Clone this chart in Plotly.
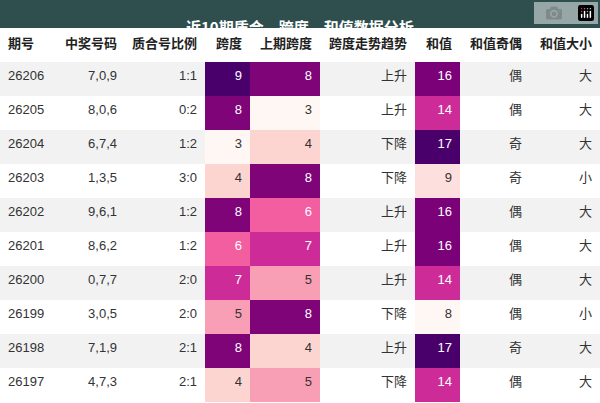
import plotly.graph_objects as go

title = "近10期质合，跨度，和值数据分析"
headers = ["期号", "中奖号码", "质合号比例", "跨度", "上期跨度", "跨度走势趋势", "和值", "和值奇偶", "和值大小"]
issues = ["26206", "26205", "26204", "26203", "26202", "26201", "26200", "26199", "26198", "26197"]
numbers = ["7,0,9", "8,0,6", "6,7,4", "1,3,5", "9,6,1", "8,6,2", "0,7,7", "3,0,5", "7,1,9", "4,7,3"]
ratios = ["1:1", "0:2", "1:2", "3:0", "1:2", "1:2", "2:0", "2:0", "2:1", "2:1"]
spans = [9, 8, 3, 4, 8, 6, 7, 5, 8, 4]
prev_spans = [8, 3, 4, 8, 6, 7, 5, 8, 4, 5]
trends = ["上升", "上升", "下降", "下降", "上升", "上升", "上升", "下降", "上升", "下降"]
sums = [16, 14, 17, 9, 16, 16, 14, 8, 17, 14]
parity = ["偶", "偶", "奇", "奇", "偶", "偶", "偶", "偶", "奇", "偶"]
size = ["大", "大", "大", "小", "大", "大", "大", "小", "大", "大"]

span_col = {3: "#fff7f3", 4: "#fcd5d0", 5: "#f99fb5", 6: "#f25ea0", 7: "#cd2b97", 8: "#7f0478", 9: "#49006a"}
sum_col = {8: "#fff7f3", 9: "#fde0dd", 14: "#cd2b97", 16: "#7a0177", 17: "#49006a"}
def txtc(c): return "white" if c in ("#f25ea0", "#cd2b97", "#7f0478", "#49006a", "#7a0177") else "#333"

band = ["#f2f2f2" if i % 2 == 0 else "white" for i in range(len(issues))]
sc = [span_col[v] for v in spans]
pc = [span_col[v] for v in prev_spans]
hc = [sum_col[v] for v in sums]
fills = [band, band, band, sc, pc, band, hc, band, band]
dark = "#333"
fcols = [[dark]*10, [dark]*10, [dark]*10, [txtc(c) for c in sc], [txtc(c) for c in pc],
         [dark]*10, [txtc(c) for c in hc], [dark]*10, [dark]*10]

fig = go.Figure(go.Table(
    columnwidth=[55, 70, 80, 45, 70, 95, 45, 70, 70],
    header=dict(values=[f"<b>{h}</b>" for h in headers], fill_color="white", line_width=0,
                align=["left"] + ["right"]*8, height=34,
                font=dict(family="Liberation Sans, Noto Sans CJK SC", size=13, color="#222")),
    cells=dict(values=[issues, numbers, ratios, spans, prev_spans, trends, sums, parity, size],
               fill_color=fills, line_width=0, height=34,
               align=["left"] + ["right"]*8,
               font=dict(family="Liberation Sans, Noto Sans CJK SC", size=13, color=fcols)),
    domain=dict(x=[0, 1], y=[0, 1 - 28/403]),
))
fig.add_shape(type="rect", xref="paper", yref="paper", x0=0, x1=1, y0=1 - 28/403, y1=1,
              fillcolor="#2f4f4f", line_width=0, layer="below")
fig.add_annotation(text=f"<b>{title}</b>", xref="paper", yref="paper", x=0.5, y=1 - 14/403,
                   showarrow=False, font=dict(family="Noto Sans CJK SC", size=15, color="white"))
fig.update_layout(width=600, height=403, margin=dict(l=0, r=0, t=0, b=0), paper_bgcolor="white")
fig.write_html("out.html", post_script="document.body.style.margin='0';")
